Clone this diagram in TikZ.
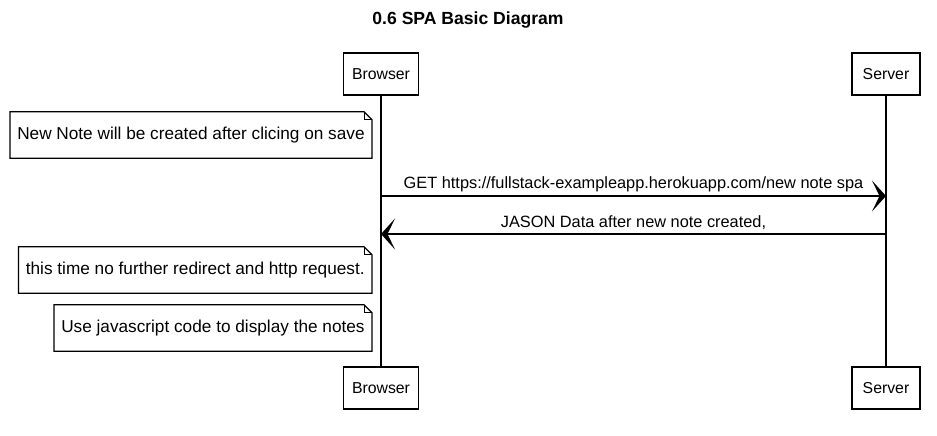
\documentclass[tikz,border=0pt]{standalone}
\usepackage{fontspec}
\setmainfont{Liberation Sans}
\usetikzlibrary{arrows.meta}

\newcommand{\foldnote}[1]{%
  \draw[line width=0.7pt] (#1.north west) -- ([xshift=-0.16cm]#1.north east)
    -- ([yshift=-0.16cm]#1.north east) -- (#1.south east) -- (#1.south west) -- cycle;
  \draw[line width=0.5pt] ([xshift=-0.16cm]#1.north east) |- ([yshift=-0.16cm]#1.north east);
}

\begin{document}
\begin{tikzpicture}[x=0.02cm, y=-0.02cm,
  actor/.style={draw, line width=0.7pt, minimum height=0.84cm,
                text centered, font=\fontsize{9}{11}\selectfont},
  note/.style={minimum height=0.92cm, inner xsep=0.14cm, anchor=east,
               font=\fontsize{9.8}{11}\selectfont},
  msg/.style={-{Stealth[length=0.28cm, width=0.62cm, inset=0.15cm]}, line width=0.8pt},
  life/.style={line width=0.7pt},
  lbl/.style={above, inner sep=2pt, font=\fontsize{9.3}{11}\selectfont},
]
\useasboundingbox (0,0) rectangle (937,436);

% Title
\node[font=\bfseries\fontsize{10}{12}\selectfont] (title) at (468,20) {0.6 SPA Basic Diagram};

% Participants
\node[actor, minimum width=1.5cm] (btop) at (381,74) {Browser};
\node[actor, minimum width=1.36cm] (stop) at (886,74) {Server};
\node[actor, minimum width=1.5cm] (bbot) at (381,388) {Browser};
\node[actor, minimum width=1.36cm] (sbot) at (886,388) {Server};

% Lifelines
\draw[life] (btop) -- (bbot);
\draw[life] (stop) -- (sbot);

% Notes
\node[note] (note1) at (372,135) {New Note will be created after clicing on save};
\node[note] (note2) at (372,270) {this time no further redirect and http request.};
\node[note] (note3) at (372,328) {Use javascript code to display the notes};
\foldnote{note1}
\foldnote{note2}
\foldnote{note3}

% Messages
\coordinate (getB) at (381,196);
\coordinate (getS) at (886,196);
\coordinate (jsonS) at (886,234);
\coordinate (jsonB) at (381,234);
\draw[msg] (getB) -- node[lbl] {GET https://fullstack-exampleapp.herokuapp.com/new note spa} (getS);
\draw[msg] (jsonS) -- node[lbl] {JASON Data after new note created,} (jsonB);

\end{tikzpicture}
\end{document}
